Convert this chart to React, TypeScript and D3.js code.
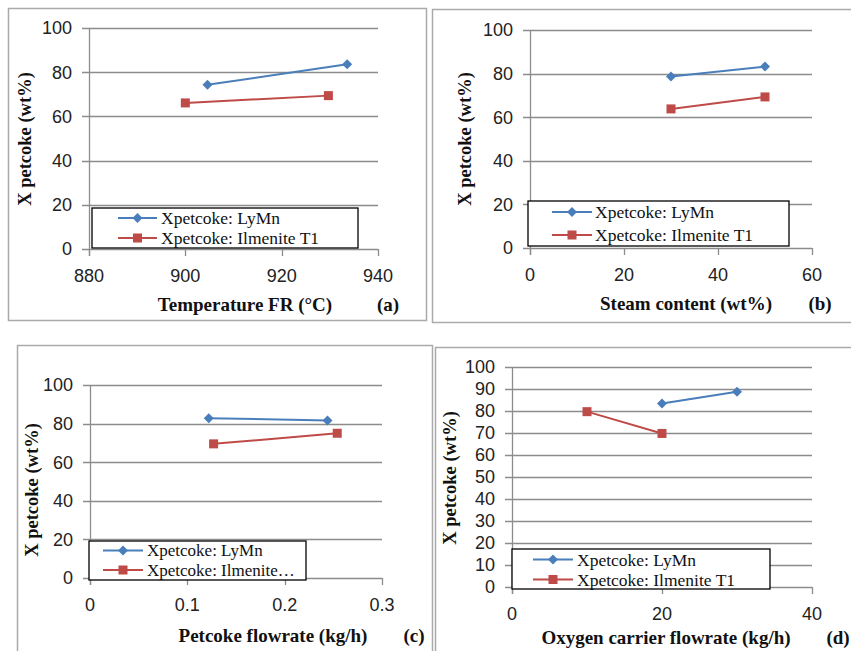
import React from "react";
import * as d3 from "d3";

const seriesNames = ["Xpetcoke: LyMn", "Xpetcoke: Ilmenite T1"];
const seriesColors = ["#4a7ebb", "#be4b48"];

// (a) temperature
const tempLyMn = [[904.6, 74.3], [933.6, 83.6]];
const tempIlm = [[900, 66.1], [929.7, 69.4]];
// (b) steam content
const steamLyMn = [[30, 78.7], [50, 83.2]];
const steamIlm = [[30, 63.8], [50, 69.3]];
// (c) petcoke flowrate
const petLyMn = [[0.122, 82.8], [0.244, 81.6]];
const petIlm = [[0.127, 69.5], [0.254, 75.0]];
// (d) oxygen carrier flowrate
const ocLyMn = [[20, 83.4], [30, 88.8]];
const ocIlm = [[10, 79.7], [20, 69.8]];

const xTicksA = [880, 900, 920, 940];
const xTicksB = [0, 20, 40, 60];
const xTicksC = [0, 0.1, 0.2, 0.3];
const xTicksD = [0, 20, 40];
const yTicks20 = [0, 20, 40, 60, 80, 100];
const yTicks10 = [0, 10, 20, 30, 40, 50, 60, 70, 80, 90, 100];

const panels = [
  {
    frame: [8, 8, 426, 320], plot: [89, 378, 249, 28], xDomain: [880, 940],
    xTicks: xTicksA, yTicks: yTicks20, data: [tempLyMn, tempIlm],
    legend: { x0: 92, x1: 358, y0: 208, y1: 248, rows: [218, 238], l0: 118, l1: 157, tx: 161, fs: 17.5 },
    names: seriesNames, xTitle: "Temperature FR (°C)", xTitleX: 245, xTitleY: 304,
    tag: "(a)", tagX: 388, yTitleX: 25, yTitleY: 139,
  },
  {
    frame: [432, 9, 860, 322], plot: [530, 812, 248, 30], xDomain: [0, 60],
    xTicks: xTicksB, yTicks: yTicks20, data: [steamLyMn, steamIlm],
    legend: { x0: 528, x1: 789, y0: 201, y1: 246, rows: [212, 235], l0: 552, l1: 592, tx: 595, fs: 17.5 },
    names: seriesNames, xTitle: "Steam content (wt%)", xTitleX: 686, xTitleY: 303,
    tag: "(b)", tagX: 820, yTitleX: 465, yTitleY: 139,
  },
  {
    frame: [17, 345, 432, 660], plot: [90, 382, 578, 385], xDomain: [0, 0.3],
    xTicks: xTicksC, yTicks: yTicks20, data: [petLyMn, petIlm],
    legend: { x0: 89, x1: 306, y0: 541, y1: 580, rows: [550.5, 570], l0: 103, l1: 143, tx: 147, fs: 17 },
    names: ["Xpetcoke: LyMn", "Xpetcoke: Ilmenite…"], xTitle: "Petcoke flowrate (kg/h)",
    xTitleX: 273, xTitleY: 635, tag: "(c)", tagX: 414, yTitleX: 32, yTitleY: 490,
  },
  {
    frame: [435, 347, 860, 660], plot: [512, 812, 587, 367], xDomain: [0, 40],
    xTicks: xTicksD, yTicks: yTicks10, data: [ocLyMn, ocIlm],
    legend: { x0: 512, x1: 770, y0: 549, y1: 589, rows: [559.5, 579.5], l0: 533, l1: 573, tx: 577, fs: 17.5 },
    names: seriesNames, xTitle: "Oxygen carrier flowrate (kg/h)", xTitleX: 666, xTitleY: 637,
    tag: "(d)", tagX: 838, yTitleX: 450, yTitleY: 478,
  },
];

const sans = "'Liberation Sans', Arial, sans-serif";
const serif = "'Liberation Serif', 'Times New Roman', serif";

const Marker = ({ kind, x, y, color }) =>
  kind === 0 ? (
    <path d={`M${x},${y - 5}L${x + 5},${y}L${x},${y + 5}L${x - 5},${y}Z`} fill={color} />
  ) : (
    <rect x={x - 4.5} y={y - 4.5} width={9} height={9} fill={color} />
  );

const Panel = ({ p }) => {
  const [px0, px1, py0, py1] = p.plot;
  const x = d3.scaleLinear().domain(p.xDomain).range([px0, px1]);
  const y = d3.scaleLinear().domain([0, 100]).range([py0, py1]);
  const line = d3.line().x((d) => x(d[0])).y((d) => y(d[1]));
  const [fx0, fy0, fx1, fy1] = p.frame;
  const lg = p.legend;
  return (
    <g>
      <rect x={fx0 + 0.5} y={fy0 + 0.5} width={fx1 - fx0} height={fy1 - fy0}
        fill="#fff" stroke="#aaaaaa" strokeWidth={1.5} />
      {p.yTicks.map((t) => (
        <g key={t}>
          <line x1={px0 - 7} x2={px1} y1={Math.round(y(t)) + 0.5} y2={Math.round(y(t)) + 0.5}
            stroke="#8c8c8c" strokeWidth={1.3} />
          <text x={px0 - 17} y={y(t)} dy="0.36em" textAnchor="end"
            fontFamily={sans} fontSize={18} fill="#222">{String(t)}</text>
        </g>
      ))}
      <line x1={px0 + 0.5} x2={px0 + 0.5} y1={py1} y2={py0 + 7} stroke="#8c8c8c" strokeWidth={1.3} />
      {p.xTicks.map((t) => (
        <g key={t}>
          <line x1={Math.round(x(t)) + 0.5} x2={Math.round(x(t)) + 0.5} y1={py0} y2={py0 + 7}
            stroke="#8c8c8c" strokeWidth={1.3} />
          <text x={x(t)} y={py0 + 27} dy="0.36em" textAnchor="middle"
            fontFamily={sans} fontSize={18} fill="#222">{String(t)}</text>
        </g>
      ))}
      {p.data.map((s, i) => (
        <g key={i}>
          <path d={line(s)} fill="none" stroke={seriesColors[i]} strokeWidth={2} />
          {s.map((d, j) => (
            <Marker key={j} kind={i} x={x(d[0])} y={y(d[1])} color={seriesColors[i]} />
          ))}
        </g>
      ))}
      <rect x={lg.x0} y={lg.y0} width={lg.x1 - lg.x0} height={lg.y1 - lg.y0}
        fill="#fff" stroke="#000" strokeWidth={1.3} />
      {lg.rows.map((ry, i) => (
        <g key={i}>
          <line x1={lg.l0} x2={lg.l1} y1={ry} y2={ry} stroke={seriesColors[i]} strokeWidth={2} />
          <Marker kind={i} x={(lg.l0 + lg.l1) / 2} y={ry} color={seriesColors[i]} />
          <text x={lg.tx} y={ry} dy="0.35em" fontFamily={serif} fontSize={lg.fs} fill="#111">
            {p.names[i]}
          </text>
        </g>
      ))}
      <text x={p.xTitleX} y={p.xTitleY} dy="0.35em" textAnchor="middle" fontFamily={serif}
        fontWeight="bold" fontSize={19} fill="#111">{p.xTitle}</text>
      <text x={p.tagX} y={p.xTitleY} dy="0.35em" textAnchor="middle" fontFamily={serif}
        fontWeight="bold" fontSize={19} fill="#111">{p.tag}</text>
      <text transform={`translate(${p.yTitleX},${p.yTitleY}) rotate(-90)`} dy="0.35em"
        textAnchor="middle" fontFamily={serif} fontWeight="bold" fontSize={18.5} fill="#111">
        X petcoke (wt%)
      </text>
    </g>
  );
};

export default function App() {
  return (
    <svg width={851} height={651} style={{ position: "absolute", left: 0, top: 0, background: "#fff" }}>
      {panels.map((p, i) => (
        <Panel key={i} p={p} />
      ))}
    </svg>
  );
}
